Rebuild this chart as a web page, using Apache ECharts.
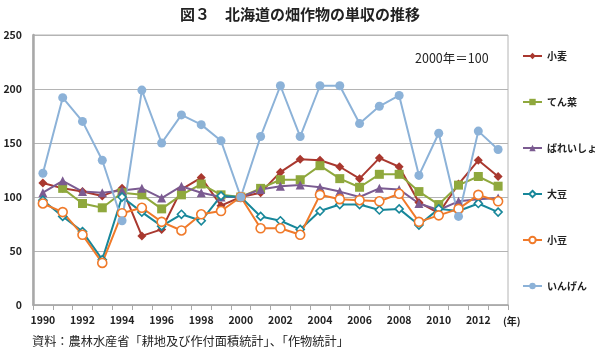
<!DOCTYPE html>
<html>
<head>
<meta charset="utf-8">
<script src="https://cdn.jsdelivr.net/npm/echarts@6/dist/echarts.min.js"></script>
<style>
  html, body { margin: 0; padding: 0; background: #fff; }
  #chart { width: 600px; height: 352px; }
</style>
</head>
<body>
<div id="chart"></div>
<script>
// 年
const years = ['1990','1991','1992','1993','1994','1995','1996','1997','1998','1999','2000','2001',
               '2002','2003','2004','2005','2006','2007','2008','2009','2010','2011','2012','2013'];

// 2000年＝100 の指数
const komugi   = [113, 108, 105, 101, 108, 64, 70, 107, 118, 92, 100, 104, 123, 135, 134, 128, 117, 136, 128, 95, 85, 112, 134, 119];
const tensai   = [null, 108, 94, 90, 104, 102, 89, 102, 112, 102, 100, 108, 116, 116, 129, 117, 109, 121, 121, 105, 93, 111, 119, 110];
const bareisho = [104, 115, 105, 104, 106, 108, 99, 110, 104, 100, 100, 107, 110, 111, 109, 105, 100, 108, 107, 94, 88, 96, 98, 99];
const daizu    = [97, 82, 68, 42, 100, 86, 73, 84, 78, 101, 100, 82, 78, 70, 87, 93, 93, 88, 89, 74, 89, 87, 94, 86];
const azuki    = [94, 86, 65, 39, 85, 90, 77, 69, 84, 87, 100, 71, 71, 65, 102, 98, 97, 96, 103, 77, 83, 89, 102, 96];
const ingen    = [122, 192, 170, 134, 78, 199, 150, 176, 167, 152, 100, 156, 203, 156, 203, 203, 168, 184, 194, 120, 159, 82, 161, 144];

const yTicks = [0, 50, 100, 150, 200, 250];

const FONT = '"Noto Sans CJK JP", "Noto Sans", sans-serif';

const chart = echarts.init(document.getElementById('chart'));

function line(name, data, color, symbol, size, hollow) {
  return {
    name: name,
    type: 'line',
    data: data,
    symbol: symbol,
    symbolSize: size,
    showAllSymbol: true,
    connectNulls: false,
    lineStyle: { color: color, width: 2 },
    itemStyle: {
      color: hollow ? '#fff' : color,
      borderColor: color,
      borderWidth: hollow ? 1.6 : 0
    },
    emphasis: { disabled: true }
  };
}

chart.setOption({
  animation: false,
  textStyle: { fontFamily: FONT },
  title: {
    text: '図３　北海道の畑作物の単収の推移',
    left: 'center',
    top: 2,
    textStyle: { fontSize: 15, fontWeight: 'bold', color: '#222', fontFamily: FONT }
  },
  grid: {
    left: 33, right: 92, top: 35, bottom: 47,
    show: true, borderColor: '#b4b4b4', borderWidth: 1
  },
  legend: {
    orient: 'vertical',
    left: 522,
    top: 51,
    padding: 0,
    itemWidth: 19,
    itemHeight: 8,
    itemGap: 36,
    textStyle: { fontSize: 10, fontWeight: 'bold', color: '#222', fontFamily: FONT },
    data: ['小麦', 'てん菜', 'ばれいしょ', '大豆', '小豆', 'いんげん']
  },
  xAxis: {
    type: 'category',
    data: years,
    boundaryGap: true,
    axisLine: { lineStyle: { color: '#a8a8a8', width: 1.5 } },
    axisTick: { show: true, interval: 0, length: 5, lineStyle: { color: '#a8a8a8' } },
    axisLabel: { interval: 1, color: '#222', fontSize: 10.5, fontWeight: 'bold', margin: 10, fontFamily: FONT },
    splitLine: { show: false }
  },
  yAxis: {
    type: 'value',
    min: yTicks[0],
    max: yTicks[yTicks.length - 1],
    interval: 50,
    axisLine: { show: true, lineStyle: { color: '#a8a8a8', width: 2.5 } },
    axisTick: { show: false },
    axisLabel: { color: '#222', fontSize: 10.5, fontWeight: 'bold', margin: 11, fontFamily: FONT },
    splitLine: { lineStyle: { color: '#b4b4b4', width: 1 } }
  },
  graphic: [
    { type: 'text', left: 415, top: 52, style: { text: '2000年＝100', fontSize: 12.5, fill: '#222', fontFamily: FONT } },
    { type: 'text', left: 503, top: 316, style: { text: '(年)', fontSize: 10, fontWeight: 'bold', fill: '#222', fontFamily: FONT } },
    { type: 'text', left: 32, top: 335, style: { text: '資料：農林水産省「耕地及び作付面積統計」、「作物統計」', fontSize: 12.2, fill: '#222', fontFamily: FONT } }
  ],
  series: [
    line('小麦', komugi, '#a9382f', 'diamond', 9, false),
    line('てん菜', tensai, '#8fa83d', 'rect', 9, false),
    line('ばれいしょ', bareisho, '#7b5b91', 'triangle', 9, false),
    line('大豆', daizu, '#17879a', 'diamond', 8, true),
    line('小豆', azuki, '#f07a2a', 'circle', 9, true),
    line('いんげん', ingen, '#8cb2d8', 'circle', 9, false)
  ]
});
</script>
</body>
</html>
